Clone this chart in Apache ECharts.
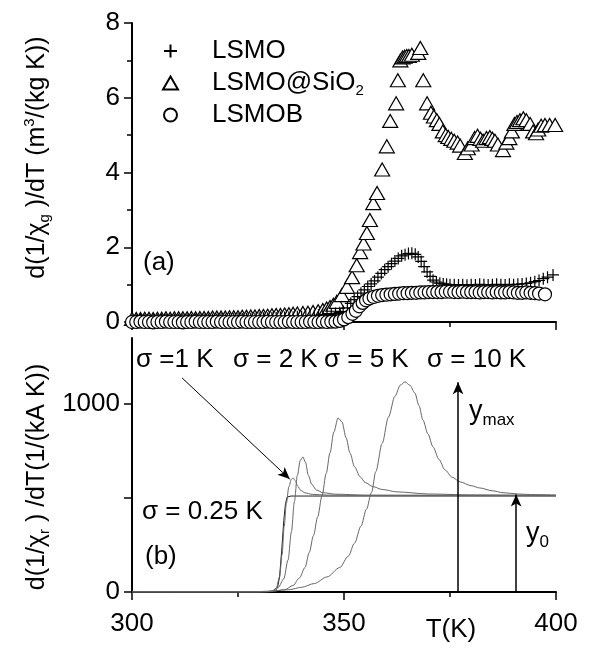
<!DOCTYPE html>
<html>
<head>
<meta charset="utf-8">
<script src="https://cdn.jsdelivr.net/npm/echarts@6.0.0/dist/echarts.min.js"></script>
<style>
  html, body { margin: 0; padding: 0; background: #fff; }
  #chart { width: 591px; height: 648px; }
</style>
</head>
<body>
<div id="chart"></div>
<script>
// --- panel (a): d(1/chi_g)/dT, [T (K), value] ---
const lsmo = [
  [300,0.05],[301,0.05],[302,0.06],[303,0.05],[304,0.05],[305,0.06],[306,0.05],[307,0.06],[308,0.06],[309,0.05],
  [310,0.06],[311,0.06],[312,0.06],[313,0.07],[314,0.06],[315,0.07],[316,0.07],[317,0.06],[318,0.07],[319,0.07],
  [320,0.07],[321,0.08],[322,0.07],[323,0.08],[324,0.08],[325,0.08],[326,0.08],[327,0.09],[328,0.09],[329,0.09],
  [330,0.1],[331,0.1],[332,0.1],[333,0.11],[334,0.11],[335,0.12],[336,0.12],[337,0.13],[338,0.13],[339,0.14],
  [340,0.14],[341,0.15],[342,0.16],[343,0.17],[344,0.18],[345,0.19],[346,0.2],[347,0.21],[348,0.23],[349,0.25],
  [349.8,0.28],[350.8,0.38],[351.6,0.5],[352.4,0.6],[353.2,0.68],[354,0.77],[354.8,0.86],[355.6,0.95],[356.4,1.02],
  [357.2,1.1],[358,1.2],[358.8,1.3],[359.6,1.4],[360.4,1.48],[361.2,1.56],[362,1.63],[362.8,1.7],[363.6,1.77],
  [364.4,1.8],[365.2,1.83],[366,1.84],[366.8,1.81],[367.5,1.74],[368.2,1.62],[368.9,1.48],[369.6,1.34],[370.3,1.22],
  [371,1.12],[371.8,1.07],[372.6,1.04],[373.4,1.02],[374.2,1.01],[375,1.0],[376,1.0],[377,0.99],[378,1.0],[379,0.98],
  [380,1.0],[381,0.99],[382,1.01],[383,1.0],[384,0.99],[385,1.0],[386,1.01],[387,1.0],[388,0.99],[389,1.01],
  [390,1.0],[391,1.01],[392,1.02],[393,1.03],[394,1.05],[395,1.08],[396,1.11],[397,1.16],[398,1.2],[399.3,1.26]
];
const lsmoSiO2 = [
  [300,0.08],[301,0.08],[302,0.08],[303,0.09],[304,0.09],[305,0.08],[306,0.09],[307,0.09],[308,0.1],[309,0.09],
  [310,0.1],[311,0.1],[312,0.1],[313,0.1],[314,0.11],[315,0.1],[316,0.11],[317,0.11],[318,0.11],[319,0.12],
  [320,0.12],[321,0.12],[322,0.12],[323,0.13],[324,0.13],[325,0.13],[326,0.14],[327,0.14],[328,0.15],[329,0.15],
  [330,0.16],[331,0.16],[332,0.17],[333,0.18],[334,0.19],[335,0.19],[336,0.2],[337,0.21],[338,0.22],[339,0.23],
  [340.3,0.24],[341.5,0.25],[342.7,0.27],[343.9,0.29],[345,0.32],[345.9,0.36],[346.7,0.4],[347.5,0.46],[348.3,0.54],
  [349.5,0.72],[350.7,0.94],[351.9,1.2],[353,1.52],[353.8,1.87],[354.6,2.1],[355.4,2.38],[356.1,2.73],[356.9,3.18],
  [357.8,3.45],[359,4.08],[360.1,4.7],[360.9,5.38],[362.3,5.85],[362.7,6.47],[363.3,7.0],[363.8,7.08],[364.3,7.1],
  [364.8,7.12],[365.3,7.12],[366,7.15],[367.5,7.2],[368,7.33],[368.7,6.47],[369.6,5.85],[370.5,5.6],[371.2,5.5],
  [371.9,5.4],[372.5,5.3],[373.3,5.1],[374,5.0],[374.6,4.95],[375.3,4.9],[376,4.85],[376.8,4.8],[377.4,4.72],
  [378.5,4.52],[379.2,4.65],[380.1,4.75],[380.8,4.92],[381.5,4.98],[382.2,4.9],[382.8,4.85],[383.6,4.92],[384.4,4.95],
  [385,4.9],[385.6,4.85],[386.3,4.75],[387.5,4.6],[388.3,4.8],[389,4.92],[389.6,5.1],[390.2,5.3],[390.8,5.35],
  [391.5,5.4],[392.3,5.45],[393,5.4],[393.9,5.3],[394.6,5.1],[395.3,5.05],[395.8,5.15],[396.5,5.25],[397.4,5.27],
  [398.5,5.27],[399.8,5.27]
];
const lsmob = [
  [300,0.0],[301,0.0],[302,0.01],[303,0.0],[304,0.0],[305,-0.01],[306,0.0],[307,0.0],[308,0.01],[309,0.0],
  [310,0.0],[311,0.0],[312,-0.01],[313,0.0],[314,0.0],[315,0.01],[316,0.0],[317,0.0],[318,0.0],[319,0.0],
  [320,0.01],[321,0.0],[322,0.0],[323,0.0],[324,0.0],[325,0.0],[326,0.01],[327,0.0],[328,0.0],[329,0.0],
  [330,0.0],[331,0.0],[332,0.01],[333,0.0],[334,0.0],[335,0.0],[336,0.0],[337,0.01],[338,0.0],[339,0.0],
  [340,0.0],[341,0.0],[342,0.01],[343,0.0],[344,0.0],[345,0.01],[346,0.0],[347,0.01],[348,0.01],[349,0.03],
  [350,0.07],[351,0.13],[352,0.22],[352.8,0.3],[353.6,0.42],[354.4,0.51],[355.2,0.58],[356,0.63],[357,0.67],
  [358,0.7],[359,0.72],[360,0.73],[361,0.74],[362,0.75],[363,0.76],[364,0.77],[365,0.77],[366,0.78],[367,0.78],
  [368,0.79],[369,0.79],[370,0.8],[371,0.8],[372,0.8],[373,0.8],[374,0.81],[375,0.81],[376,0.8],[377,0.8],
  [378,0.81],[379,0.8],[380,0.8],[381,0.8],[382,0.79],[383,0.8],[384,0.8],[385,0.79],[386,0.8],[387,0.79],
  [388,0.79],[389,0.8],[390,0.79],[391,0.78],[392,0.78],[393,0.79],[394,0.78],[395,0.77],[396,0.76],[397.4,0.74]
];

// --- panel (b): d(1/chi_r)/dT for several sigma, [T (K), value] ---
const sig025 = [[300,0],[332,0],[333.5,3],[334.3,20],[334.8,80],[335.3,220],[335.8,380],[336.2,470],[336.6,505],[337.5,510],[400,510]];
const sig1 = [[300,0],[332,0],[333,4],[334,20],[334.8,80],[335.4,200],[335.9,350],[336.4,470],[337,560],[337.6,600],
  [338,606],[338.5,592],[339.1,562],[339.8,540],[340.8,527],[342.5,519],[346,515],[355,513],[400,512]];
const sig2 = [[300,0],[331,0],[333,5],[334.5,25],[335.8,70],[336.8,170],[337.6,320],[338.3,480],[339,620],[339.7,700],
  [340.3,718],[340.9,690],[341.6,620],[342.4,572],[343.5,542],[345,528],[348,520],[355,515],[400,513]];
const sig5 = [[300,0],[330,0],[333,4],[336,12],[338,35],[339.5,75],[340.8,130],[341.8,210],[342.8,300],[343.8,400],
  [344.8,510],[345.8,630],[346.7,740],[347.6,850],[348.6,925],[349.5,905],[350.5,820],[351.4,739],[352.5,665],
  [353.8,612],[355,582],[356.8,560],[359,545],[362.5,532],[370,521],[380,516],[400,513]];
const sig10 = [[300,0],[328,0],[332,4],[337,12],[340,25],[343,45],[346,80],[349,130],[351,190],[352.5,260],[354,350],
  [355.3,440],[356.5,530],[357.5,640],[359,790],[360.5,930],[362,1040],[363.3,1100],[364.4,1117],[365.5,1100],[366.7,1058],
  [367.7,990],[368.6,915],[369.8,840],[371,771],[372.4,705],[373.8,649],[375.5,610],[377.4,585],[380,565],[382,553],
  [385,538],[387.5,528],[391,521],[394,518],[400,516]];

// arrows in data coordinates: [from, to]
const arrowYmax = [[376.9, 0], [376.9, 1115]];
const arrowY0 = [[390.6, 0], [390.6, 518]];
const arrowSigma1 = [[311.8, 1138], [337.2, 600]];

const FONT = '"Liberation Sans", Arial, sans-serif';
const subRich = {
  sub: { fontSize: 15, lineHeight: 15, verticalAlign: 'bottom', fontFamily: FONT, color: '#000' },
  sup: { fontSize: 15, lineHeight: 15, verticalAlign: 'top', fontFamily: FONT, color: '#000' }
};

const chart = echarts.init(document.getElementById('chart'), null, { renderer: 'canvas' });

function xAx(idx, showLabel) {
  return {
    type: 'value', gridIndex: idx, min: 300, max: 400, interval: 50,
    axisLine: { onZero: false, lineStyle: { color: '#000', width: 2 } },
    axisTick: { length: 8, lineStyle: { color: '#000', width: 1.5 } },
    minorTick: { show: true, splitNumber: 2, length: 5, lineStyle: { color: '#000', width: 1.5 } },
    splitLine: { show: false },
    axisLabel: { show: showLabel, color: '#000', fontSize: 26, fontFamily: FONT, margin: 19 }
  };
}

const plusPath = 'path://M0,6L12,6M6,0L6,12';

function curve(name, data, dark) {
  return {
    name: name, type: 'line', xAxisIndex: 1, yAxisIndex: 1, data: data,
    showSymbol: false, symbol: 'none', smooth: 0.3, smoothMonotone: 'x',
    lineStyle: { color: dark ? '#222' : '#666', width: 1 }
  };
}

function arrow(pts) {
  return [{ coord: pts[0] }, { coord: pts[1] }];
}

const s025 = curve('σ = 0.25 K', sig025, true);
s025.smooth = false;
s025.markLine = {
  silent: true, animation: false,
  symbol: ['none', 'arrow'], symbolSize: [8, 12],
  label: { show: false },
  lineStyle: { color: '#000', width: 1.5, type: 'solid' },
  data: [arrow(arrowYmax), arrow(arrowY0),
    [{ coord: arrowSigma1[0], lineStyle: { width: 1 } }, { coord: arrowSigma1[1] }]]
};

chart.setOption({
  animation: false,
  backgroundColor: '#fff',
  textStyle: { fontFamily: FONT },
  grid: [
    { left: 132, right: 35, top: 23, height: 299, outerBoundsMode: 'none', containLabel: false },
    { left: 132, right: 35, top: 338, height: 254, outerBoundsMode: 'none', containLabel: false }
  ],
  xAxis: [
    xAx(0, false),
    Object.assign(xAx(1, true), {
      name: 'T(K)', nameLocation: 'middle', nameGap: 25, nameMoveOverlap: false,
      nameTextStyle: { color: '#000', fontSize: 26, fontFamily: FONT, padding: [0, 0, 0, 214] }
    })
  ],
  yAxis: [
    {
      type: 'value', gridIndex: 0, min: 0, max: 8, interval: 2,
      axisLine: { show: true, onZero: false, lineStyle: { color: '#000', width: 2 } },
      axisTick: { show: true, length: 8, lineStyle: { color: '#000', width: 1.5 } },
      minorTick: { show: true, splitNumber: 2, length: 5, lineStyle: { color: '#000', width: 1.5 } },
      splitLine: { show: false },
      axisLabel: { color: '#000', fontSize: 26, fontFamily: FONT, margin: 12 },
      name: 'd(1/χ{sub|g} )/dT (m{sup|3}/(kg K))', nameLocation: 'middle', nameGap: 80, nameMoveOverlap: false,
      nameTextStyle: { color: '#000', fontSize: 25, lineHeight: 30, fontFamily: FONT, padding: [0, 0, 0, 30], rich: subRich }
    },
    {
      type: 'value', gridIndex: 1, min: 0, max: 1350,
      axisLine: { show: true, onZero: false, lineStyle: { color: '#000', width: 2 } },
      axisTick: { show: true, length: 8, customValues: [0, 500, 1000], lineStyle: { color: '#000', width: 1.5 } },
      splitLine: { show: false },
      axisLabel: { color: '#000', fontSize: 26, fontFamily: FONT, margin: 12, customValues: [0, 1000],
        formatter: function (v) { return String(v); } },
      name: 'd(1/χ{sub|r} ) /dT(1/(kA K))', nameLocation: 'middle', nameGap: 80, nameMoveOverlap: false,
      nameTextStyle: { color: '#000', fontSize: 25, lineHeight: 30, fontFamily: FONT, padding: [0, 24, 0, 0], rich: subRich }
    }
  ],
  legend: {
    data: ['LSMO', 'LSMO@SiO2', 'LSMOB'],
    orient: 'vertical', left: 157, top: 31,
    itemWidth: 15, itemHeight: 13, itemGap: 2,
    selectedMode: false,
    textStyle: { color: '#000', fontSize: 26, lineHeight: 30, fontFamily: FONT, padding: [0, 0, 0, 29], rich: subRich },
    formatter: function (n) { return n === 'LSMO@SiO2' ? 'LSMO@SiO{sub|2}' : n; }
  },
  series: [
    {
      name: 'LSMO@SiO2', type: 'scatter', xAxisIndex: 0, yAxisIndex: 0, data: lsmoSiO2,
      symbol: 'triangle', symbolSize: [15, 13], clip: false,
      itemStyle: { color: '#fff', borderColor: '#000', borderWidth: 1.2, opacity: 1 }
    },
    {
      name: 'LSMO', type: 'scatter', xAxisIndex: 0, yAxisIndex: 0, data: lsmo,
      symbol: plusPath, symbolSize: 12, clip: false,
      itemStyle: { color: 'rgba(0,0,0,0)', borderColor: '#000', borderWidth: 1.2, opacity: 1 }
    },
    {
      name: 'LSMOB', type: 'scatter', xAxisIndex: 0, yAxisIndex: 0, data: lsmob,
      symbol: 'circle', symbolSize: 13, clip: false,
      itemStyle: { color: '#fff', borderColor: '#000', borderWidth: 1.2, opacity: 1 }
    },
    s025,
    curve('σ = 1 K', sig1),
    curve('σ = 2 K', sig2),
    curve('σ = 5 K', sig5),
    curve('σ = 10 K', sig10)
  ],
  graphic: [
    { type: 'text', x: 143, y: 263, style: { text: '(a)', fontSize: 26, fontFamily: FONT, fill: '#000', verticalAlign: 'middle' } },
    { type: 'text', x: 136, y: 360, style: { text: 'σ =1 K', fontSize: 26, fontFamily: FONT, fill: '#000', verticalAlign: 'middle' } },
    { type: 'text', x: 233, y: 360, style: { text: 'σ = 2 K', fontSize: 26, fontFamily: FONT, fill: '#000', verticalAlign: 'middle' } },
    { type: 'text', x: 324, y: 360, style: { text: 'σ = 5 K', fontSize: 26, fontFamily: FONT, fill: '#000', verticalAlign: 'middle' } },
    { type: 'text', x: 427, y: 360, style: { text: 'σ = 10 K', fontSize: 26, fontFamily: FONT, fill: '#000', verticalAlign: 'middle' } },
    { type: 'text', x: 142, y: 512, style: { text: 'σ = 0.25 K', fontSize: 26, fontFamily: FONT, fill: '#000', verticalAlign: 'middle' } },
    { type: 'text', x: 145, y: 557, style: { text: '(b)', fontSize: 26, fontFamily: FONT, fill: '#000', verticalAlign: 'middle' } },
    { type: 'text', x: 469, y: 412, style: { text: 'y{sub|max}', fontSize: 27, lineHeight: 34, fontFamily: FONT, fill: '#000', verticalAlign: 'middle',
      rich: { sub: { fontSize: 17, lineHeight: 17, verticalAlign: 'bottom', fontFamily: FONT, color: '#000' } } } },
    { type: 'text', x: 526, y: 534, style: { text: 'y{sub|0}', fontSize: 27, lineHeight: 34, fontFamily: FONT, fill: '#000', verticalAlign: 'middle',
      rich: { sub: { fontSize: 17, lineHeight: 17, verticalAlign: 'bottom', fontFamily: FONT, color: '#000' } } } }
  ]
});
</script>
</body>
</html>
